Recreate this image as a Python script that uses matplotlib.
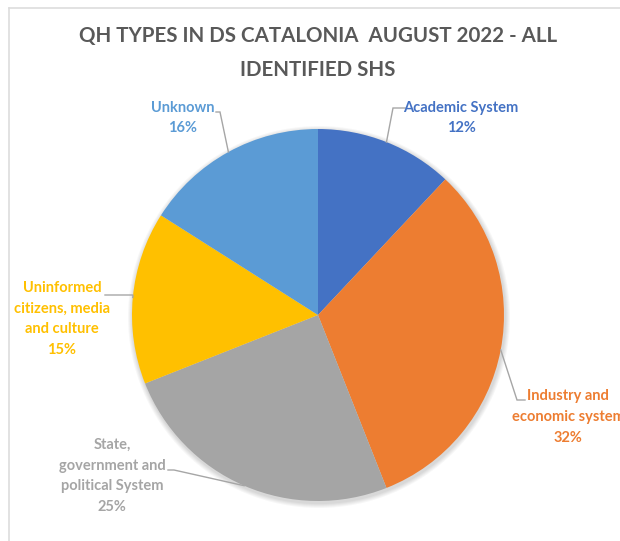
import numpy as np
import matplotlib
matplotlib.use("Agg")
import matplotlib.pyplot as plt
from matplotlib.patches import Circle

# Slice data, clockwise from 12 o'clock
categories = [
    "Academic System",
    "Industry and\neconomic system",
    "State,\ngovernment and\npolitical System",
    "Uninformed\ncitizens, media\nand culture",
    "Unknown",
]
shares = [12, 32, 25, 15, 16]
colors = ["#4472C4", "#ED7D31", "#A5A5A5", "#FFC000", "#5B9BD5"]

title = "QH TYPES IN DS CATALONIA  AUGUST 2022 - ALL\nIDENTIFIED SHS"

# Layout in pixel units (y measured from the bottom)
W, H = 620, 541
CENTER = (318, 226)
RADIUS = 186
# label text centre, leader elbow point, end of short horizontal run
label_pos = [(461, 423), (568, 124), (112, 65), (62, 222), (183, 423)]
elbows = [(393, 433), (517, 141), (174, 71), (133, 246), (220, 429)]
ends = [(405, 433), (525, 141), (168, 71), (105, 246), (216, 429)]

plt.rcParams["font.family"] = ["Lato", "DejaVu Sans"]

fig = plt.figure(figsize=(W / 100, H / 100), dpi=100)
ax = fig.add_axes([0, 0, 1, 1])

# chart frame (top and left edges visible)
ax.plot([9, 9], [0, H - 8], color="#DDDDDD", lw=1.2)
ax.plot([9, W], [H - 8, H - 8], color="#DDDDDD", lw=1.2)

# soft shadow under the pie
for k in range(1, 6):
    ax.add_patch(Circle((CENTER[0] + 1, CENTER[1] - 2), RADIUS + k,
                        color="#000000", alpha=0.03, lw=0, zorder=1))

wedges, _ = ax.pie(shares, colors=colors, startangle=90, counterclock=False,
                   center=CENTER, radius=RADIUS, frame=True,
                   wedgeprops=dict(linewidth=0, zorder=2))
ax.set_xlim(0, W)
ax.set_ylim(0, H)
ax.set_aspect("equal")
ax.axis("off")

for w, name, val, col, tp, el, en in zip(wedges, categories, shares, colors,
                                        label_pos, elbows, ends):
    ang = np.deg2rad((w.theta1 + w.theta2) / 2)
    px = CENTER[0] + RADIUS * np.cos(ang)
    py = CENTER[1] + RADIUS * np.sin(ang)
    ax.plot([px, el[0], en[0]], [py, el[1], en[1]], color="#A6A6A6",
            lw=1, zorder=3, solid_joinstyle="miter")
    ax.text(tp[0], tp[1], f"{name}\n{val}%", color=col, fontsize=10.5,
            fontweight="bold", ha="center", va="center", linespacing=1.6,
            zorder=4)

ax.text(318, H - 53, title, color="#595959", fontsize=14.8, fontweight="bold",
        ha="center", va="center", linespacing=1.85)

fig.savefig("out.png", dpi=100)
